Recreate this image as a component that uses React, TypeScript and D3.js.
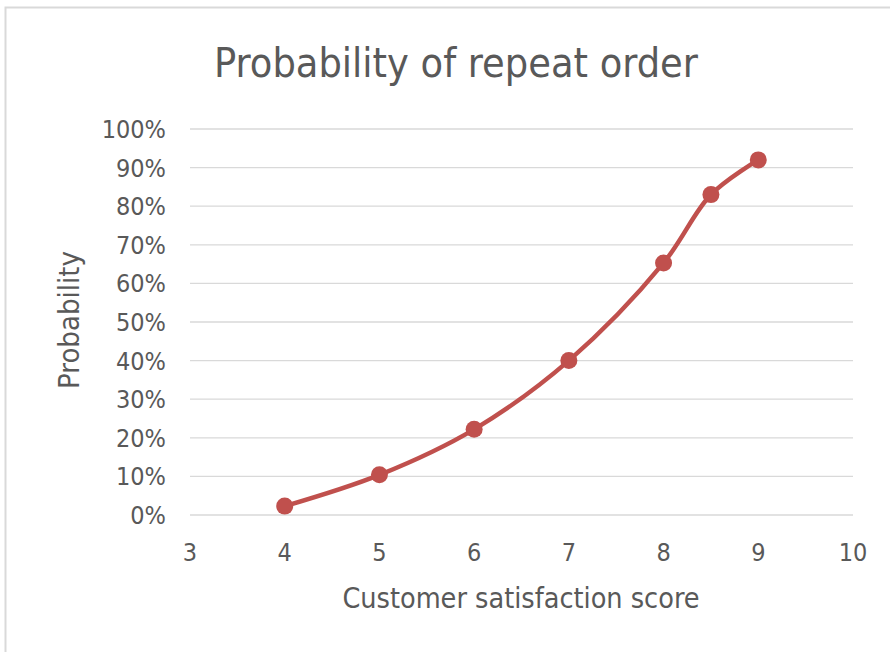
import React from 'react';
import * as d3 from 'd3';

const scores = [4, 5, 6, 7, 8, 8.5, 9];
const probability = [0.023, 0.104, 0.222, 0.4, 0.653, 0.83, 0.92];
const xTicks = [3, 4, 5, 6, 7, 8, 9, 10];
const yTicks = [0, 0.1, 0.2, 0.3, 0.4, 0.5, 0.6, 0.7, 0.8, 0.9, 1];

const W = 890;
const H = 652;
const margin = { top: 129, right: 37, bottom: 137, left: 190 };
const font = '"DejaVu Sans Condensed", "Noto Sans", sans-serif';
const textColor = '#595959';
const red = '#C0504D';

export default function App() {
  const x = d3.scaleLinear().domain([3, 10]).range([margin.left, W - margin.right]);
  const y = d3.scaleLinear().domain([0, 1]).range([H - margin.bottom, margin.top]);

  const points = scores.map((s, i) => [s, probability[i]] as [number, number]);
  const line = d3
    .line<[number, number]>()
    .x(d => x(d[0]))
    .y(d => y(d[1]))
    .curve(d3.curveCatmullRom.alpha(0.5));

  return (
    <div style={{ position: 'absolute', left: 0, top: 0 }}>
      <svg width={W} height={H} style={{ display: 'block', background: '#fff' }}>
        <rect x={5.5} y={7.5} width={W + 10} height={H + 10} fill="#fff" stroke="#d9d9d9" strokeWidth={2} />

        <text x={456} y={77} textAnchor="middle" fontFamily={font} fontSize={41} fill={textColor}>
          Probability of repeat order
        </text>

        {yTicks.map(t => (
          <g key={t}>
            <line x1={x(3)} x2={x(10)} y1={y(t)} y2={y(t)} stroke="#d9d9d9" strokeWidth={1.3} />
            <text x={166} y={y(t)} dy="0.36em" textAnchor="end" fontFamily={font} fontSize={25} fill={textColor}>
              {d3.format('.0%')(t)}
            </text>
          </g>
        ))}

        {xTicks.map(t => (
          <text key={t} x={x(t)} y={561} textAnchor="middle" fontFamily={font} fontSize={25} fill={textColor}>
            {t}
          </text>
        ))}

        <text x={521} y={608} textAnchor="middle" fontFamily={font} fontSize={28.5} fill={textColor}>
          Customer satisfaction score
        </text>

        <text
          transform={`translate(79, ${320}) rotate(-90)`}
          textAnchor="middle"
          fontFamily={font}
          fontSize={29}
          fill={textColor}
        >
          Probability
        </text>

        <path d={line(points) || ''} fill="none" stroke={red} strokeWidth={4.5} strokeLinejoin="round" strokeLinecap="round" />
        {points.map((p, i) => (
          <circle key={i} cx={x(p[0])} cy={y(p[1])} r={8.5} fill={red} />
        ))}
      </svg>
    </div>
  );
}
